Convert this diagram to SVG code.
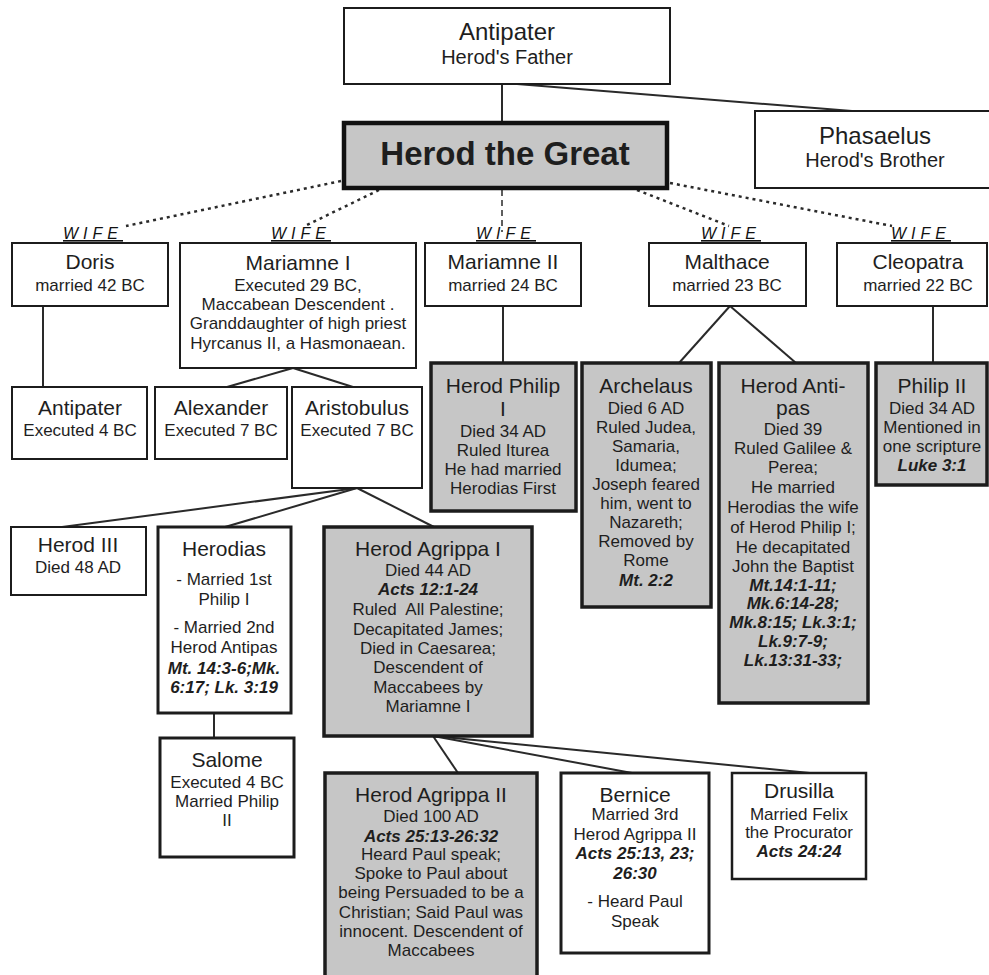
<svg xmlns="http://www.w3.org/2000/svg" width="989" height="975" viewBox="0 0 989 975">
<style>
.box{fill:#fff;stroke:#1c1c1c;stroke-width:2}
.tbox{fill:#fff;stroke:#1c1c1c;stroke-width:3}
.gbox{fill:#c6c6c6;stroke:#1c1c1c;stroke-width:3.5}
.big{fill:#c6c6c6;stroke:#111;stroke-width:4.5}
text{font-family:"Liberation Sans",Arial,sans-serif;fill:#1e1e1e;text-anchor:middle}
.h{font-size:21px}
.b{font-size:17px}
.r{font-size:17px;font-weight:bold;font-style:italic}
.w{font-size:16px;font-style:italic;letter-spacing:5px;text-decoration:underline;fill:#111}
.ln{stroke:#2a2a2a;stroke-width:2;fill:none}
.dot{stroke:#2a2a2a;stroke-width:2.5;stroke-dasharray:3 4;fill:none}
.dash{stroke:#2a2a2a;stroke-width:1.5;stroke-dasharray:6 4;fill:none}
</style>
<rect width="989" height="975" fill="#fff"/>
<g id="connectors">
<line class="ln" x1="502" y1="84" x2="502" y2="123"/>
<line class="ln" x1="517" y1="84" x2="852" y2="111"/>
<line class="dot" x1="341" y1="181" x2="126" y2="226"/>
<line class="dot" x1="379" y1="190" x2="305" y2="226"/>
<line class="dash" x1="502" y1="190" x2="502" y2="232"/>
<line class="dot" x1="637" y1="190" x2="729" y2="226"/>
<line class="dot" x1="670" y1="183" x2="892" y2="226"/>
<line class="ln" x1="43" y1="306" x2="43" y2="387"/>
<line class="ln" x1="293" y1="368" x2="227" y2="387"/>
<line class="ln" x1="293" y1="368" x2="353" y2="387"/>
<line class="ln" x1="503" y1="306" x2="503" y2="363"/>
<line class="ln" x1="730" y1="306" x2="679" y2="363"/>
<line class="ln" x1="730" y1="306" x2="796" y2="363"/>
<line class="ln" x1="933" y1="306" x2="933" y2="363"/>
<line class="ln" x1="357" y1="488" x2="62" y2="527"/>
<line class="ln" x1="357" y1="488" x2="225" y2="527"/>
<line class="ln" x1="357" y1="488" x2="434" y2="527"/>
<line class="ln" x1="214" y1="713" x2="214" y2="738"/>
<line class="ln" x1="433" y1="736" x2="458" y2="773"/>
<line class="ln" x1="433" y1="736" x2="632" y2="773"/>
<line class="ln" x1="433" y1="736" x2="810" y2="773"/>
</g>
<g id="antipater-father">
<rect class="box" x="344" y="8" width="326" height="76"/>
<text x="507" y="40" style="font-size:24px">Antipater</text>
<text x="507" y="64" style="font-size:20px">Herod's Father</text>
</g>
<g id="herod-the-great">
<rect class="big" x="344" y="123" width="323" height="65"/>
<text x="505" y="165" style="font-size:33px;font-weight:bold">Herod the Great</text>
</g>
<g id="phasaelus">
<rect class="box" x="755" y="111" width="250" height="77"/>
<text x="875" y="144" style="font-size:24px">Phasaelus</text>
<text x="875" y="167" style="font-size:20px">Herod's Brother</text>
</g>
<g id="wife-labels">
<text class="w" x="93" y="239">WIFE</text>
<text class="w" x="301" y="239">WIFE</text>
<text class="w" x="506" y="239">WIFE</text>
<text class="w" x="731" y="239">WIFE</text>
<text class="w" x="921" y="239">WIFE</text>
</g>
<g id="doris">
<rect class="box" x="12" y="243" width="156" height="63"/>
<text class="h" x="90" y="269">Doris</text>
<text class="b" x="90" y="291">married 42 BC</text>
</g>
<g id="mariamne-i">
<rect class="box" x="180" y="243" width="236" height="125"/>
<text class="h" x="298" y="270">Mariamne I</text>
<text class="b" x="298" y="291">Executed 29 BC,</text>
<text class="b" x="298" y="310">Maccabean Descendent .</text>
<text class="b" x="298" y="329">Granddaughter of high priest</text>
<text class="b" x="298" y="349">Hyrcanus II, a Hasmonaean.</text>
</g>
<g id="mariamne-ii">
<rect class="box" x="425" y="243" width="156" height="63"/>
<text class="h" x="503" y="269">Mariamne II</text>
<text class="b" x="503" y="291">married 24 BC</text>
</g>
<g id="malthace">
<rect class="box" x="649" y="243" width="157" height="63"/>
<text class="h" x="727" y="269">Malthace</text>
<text class="b" x="727" y="291">married 23 BC</text>
</g>
<g id="cleopatra">
<rect class="box" x="837" y="243" width="150" height="63"/>
<text class="h" x="918" y="269">Cleopatra</text>
<text class="b" x="918" y="291">married 22 BC</text>
</g>
<g id="antipater-son">
<rect class="box" x="12" y="387" width="135" height="72"/>
<text class="h" x="80" y="415">Antipater</text>
<text class="b" x="80" y="436">Executed 4 BC</text>
</g>
<g id="alexander">
<rect class="box" x="155" y="387" width="132" height="72"/>
<text class="h" x="221" y="415">Alexander</text>
<text class="b" x="221" y="436">Executed 7 BC</text>
</g>
<g id="aristobulus">
<rect class="box" x="292" y="387" width="130" height="101"/>
<text class="h" x="357" y="415">Aristobulus</text>
<text class="b" x="357" y="436">Executed 7 BC</text>
</g>
<g id="herod-philip-i">
<rect class="gbox" x="431" y="363" width="145" height="148"/>
<text class="h" x="503" y="393">Herod Philip</text>
<text class="h" x="503" y="416">I</text>
<text class="b" x="503" y="437">Died 34 AD</text>
<text class="b" x="503" y="456">Ruled Iturea</text>
<text class="b" x="503" y="475">He had married</text>
<text class="b" x="503" y="494">Herodias First</text>
</g>
<g id="archelaus">
<rect class="gbox" x="582" y="363" width="129" height="244"/>
<text class="h" x="646" y="393">Archelaus</text>
<text class="b" x="646" y="414">Died 6 AD</text>
<text class="b" x="646" y="433">Ruled Judea,</text>
<text class="b" x="646" y="452">Samaria,</text>
<text class="b" x="646" y="471">Idumea;</text>
<text class="b" x="646" y="490">Joseph feared</text>
<text class="b" x="646" y="509">him, went to</text>
<text class="b" x="646" y="528">Nazareth;</text>
<text class="b" x="646" y="547">Removed by</text>
<text class="b" x="646" y="566">Rome</text>
<text class="r" x="646" y="586">Mt. 2:2</text>
</g>
<g id="herod-antipas">
<rect class="gbox" x="719" y="363" width="149" height="340"/>
<text class="h" x="793" y="393">Herod Anti-</text>
<text class="h" x="793" y="415">pas</text>
<text class="b" x="793" y="435">Died 39</text>
<text class="b" x="793" y="454">Ruled Galilee &amp;</text>
<text class="b" x="793" y="473">Perea;</text>
<text class="b" x="793" y="493">He married</text>
<text class="b" x="793" y="513">Herodias the wife</text>
<text class="b" x="793" y="533">of Herod Philip I;</text>
<text class="b" x="793" y="553">He decapitated</text>
<text class="b" x="793" y="572">John the Baptist</text>
<text class="r" x="793" y="591">Mt.14:1-11;</text>
<text class="r" x="793" y="609">Mk.6:14-28;</text>
<text class="r" x="793" y="628">Mk.8:15; Lk.3:1;</text>
<text class="r" x="793" y="647">Lk.9:7-9;</text>
<text class="r" x="793" y="666">Lk.13:31-33;</text>
</g>
<g id="philip-ii">
<rect class="gbox" x="876" y="363" width="111" height="122"/>
<text class="h" x="932" y="393">Philip II</text>
<text class="b" x="932" y="414">Died 34 AD</text>
<text class="b" x="932" y="433">Mentioned in</text>
<text class="b" x="932" y="452">one scripture</text>
<text class="r" x="932" y="471">Luke 3:1</text>
</g>
<g id="herod-iii">
<rect class="box" x="11" y="527" width="135" height="68"/>
<text class="h" x="78" y="552">Herod III</text>
<text class="b" x="78" y="573">Died 48 AD</text>
</g>
<g id="herodias">
<rect class="tbox" x="158" y="527" width="133" height="186"/>
<text class="h" x="224" y="556">Herodias</text>
<text class="b" x="224" y="585">- Married 1st</text>
<text class="b" x="224" y="605">Philip I</text>
<text class="b" x="224" y="633">- Married 2nd</text>
<text class="b" x="224" y="653">Herod Antipas</text>
<text class="r" x="224" y="674">Mt. 14:3-6;Mk.</text>
<text class="r" x="224" y="693">6:17; Lk. 3:19</text>
</g>
<g id="herod-agrippa-i">
<rect class="gbox" x="324" y="527" width="208" height="209"/>
<text class="h" x="428" y="556">Herod Agrippa I</text>
<text class="b" x="428" y="576">Died 44 AD</text>
<text class="r" x="428" y="595">Acts 12:1-24</text>
<text class="b" x="428" y="615" xml:space="preserve">Ruled  All Palestine;</text>
<text class="b" x="428" y="635">Decapitated James;</text>
<text class="b" x="428" y="654">Died in Caesarea;</text>
<text class="b" x="428" y="673">Descendent of</text>
<text class="b" x="428" y="693">Maccabees by</text>
<text class="b" x="428" y="712">Mariamne I</text>
</g>
<g id="salome">
<rect class="tbox" x="160" y="738" width="134" height="119"/>
<text class="h" x="227" y="767">Salome</text>
<text class="b" x="227" y="788">Executed 4 BC</text>
<text class="b" x="227" y="807">Married Philip</text>
<text class="b" x="227" y="826">II</text>
</g>
<g id="herod-agrippa-ii">
<rect class="gbox" x="325" y="773" width="212" height="215"/>
<text class="h" x="431" y="802">Herod Agrippa II</text>
<text class="b" x="431" y="822">Died 100 AD</text>
<text class="r" x="431" y="842">Acts 25:13-26:32</text>
<text class="b" x="431" y="860">Heard Paul speak;</text>
<text class="b" x="431" y="879">Spoke to Paul about</text>
<text class="b" x="431" y="898">being Persuaded to be a</text>
<text class="b" x="431" y="918">Christian; Said Paul was</text>
<text class="b" x="431" y="937">innocent. Descendent of</text>
<text class="b" x="431" y="956">Maccabees</text>
</g>
<g id="bernice">
<rect class="tbox" x="561" y="773" width="148" height="180"/>
<text class="h" x="635" y="802">Bernice</text>
<text class="b" x="635" y="820">Married 3rd</text>
<text class="b" x="635" y="840">Herod Agrippa II</text>
<text class="r" x="635" y="859">Acts 25:13, 23;</text>
<text class="r" x="635" y="879">26:30</text>
<text class="b" x="635" y="907">- Heard Paul</text>
<text class="b" x="635" y="927">Speak</text>
</g>
<g id="drusilla">
<rect class="box" x="732" y="773" width="134" height="106" style="stroke-width:2.5"/>
<text class="h" x="799" y="798">Drusilla</text>
<text class="b" x="799" y="820">Married Felix</text>
<text class="b" x="799" y="838">the Procurator</text>
<text class="r" x="799" y="857">Acts 24:24</text>
</g>
</svg>
